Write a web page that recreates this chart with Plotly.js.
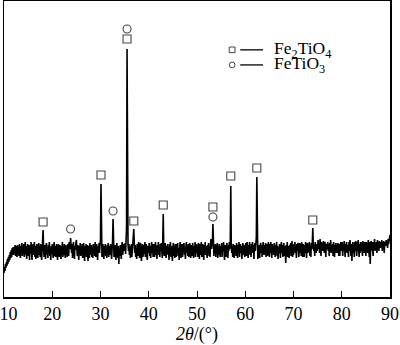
<!DOCTYPE html>
<html>
<head>
<meta charset="utf-8">
<script src="https://cdn.plot.ly/plotly-3.0.1.min.js"></script>
<style>html,body{margin:0;padding:0;background:#fff;}#chart{width:400px;height:345px;}</style>
</head>
<body>
<div id="chart"></div>
<script>
// 2-theta grid start and step (degrees)
const twoThetaStart = 10;
const twoThetaStep = 0.1;
// intensity (a.u.), one row per degree, 10.0 ... 89.9, then 90.0
const intensity = [
24,30,26,33,29,35,31,38,33,40,
35,42,37,45,39,47,40,49,43,50,
42,50,44,52,41,51,46,40,52,44,
49,41,53,44,39,51,46,54,41,48,
45,53,40,47,55,42,51,38,48,53,
41,46,52,37,51,44,55,43,37,49,
53,42,46,55,40,51,38,47,53,44,
39,48,54,42,51,40,53,46,37,51,
52,67,50,40,52,46,38,50,54,42,
49,39,52,44,55,41,47,37,51,43,
53,44,39,48,55,41,51,40,46,53,
43,37,48,53,44,40,52,46,38,51,
44,55,40,49,42,53,46,39,52,44,
50,40,53,46,41,55,48,50,59,48,
44,53,39,50,55,46,38,51,47,54,
57,48,41,52,44,37,51,46,54,41,
48,42,53,39,47,54,44,36,51,43,
53,40,46,52,36,44,51,39,54,42,
47,52,40,49,39,53,44,51,41,55,
40,48,53,42,37,51,46,54,44,52,
58,113,52,40,46,53,42,38,51,44,
53,41,48,39,52,44,54,40,47,51,
42,53,46,38,48,55,78,50,40,47,
52,41,37,49,54,44,39,51,33,47,
41,52,44,38,51,55,42,48,53,46,
50,54,43,51,70,248,90,53,46,53,
42,51,39,46,53,40,49,55,54,68,
54,44,52,40,49,38,53,46,41,55,
46,39,51,54,41,36,48,53,40,47,
52,43,55,40,49,53,41,37,51,44,
48,54,41,51,39,46,55,44,53,40,
46,53,40,49,55,42,51,38,52,44,
55,42,48,40,53,46,54,44,39,56,
83,52,41,49,54,44,39,51,46,53,
42,50,37,53,44,55,40,51,46,36,
48,54,41,51,39,53,46,40,53,44,
54,41,49,37,51,55,44,39,53,46,
40,53,46,54,42,49,38,51,55,44,
51,41,53,40,49,54,44,39,52,46,
41,54,48,39,51,44,55,40,46,53,
44,51,40,54,46,38,53,42,49,55,
40,50,53,44,37,52,46,55,42,51,
46,39,52,44,54,41,49,40,53,58,
48,52,56,73,50,41,51,46,53,40,
52,43,54,39,49,42,53,46,40,51,
44,54,40,51,46,55,42,37,52,48,
40,51,54,44,39,52,46,55,48,56,
111,54,44,51,40,53,46,39,52,44,
51,41,54,46,39,52,44,55,40,49,
53,44,51,38,49,54,42,52,46,40,
49,54,41,51,55,44,39,52,46,55,
42,51,40,53,46,55,44,52,38,49,
54,46,55,60,120,56,38,42,52,44,
39,51,54,44,52,40,49,55,46,42,
52,44,54,40,49,53,41,51,55,46,
40,53,44,55,49,39,53,46,51,42,
54,46,40,52,44,55,41,51,38,49,
44,53,46,39,51,55,44,52,40,49,
54,41,51,44,34,52,46,55,40,51,
46,39,52,44,54,41,49,56,40,51,
42,53,46,55,44,51,39,53,46,54,
51,40,49,54,44,53,41,55,46,40,
53,46,40,52,44,55,49,39,51,54,
44,53,46,55,41,51,40,54,48,55,
69,53,46,52,41,55,49,44,53,46,
51,57,48,54,44,58,51,41,55,48,
54,46,56,51,44,55,52,40,53,48,
51,55,46,53,41,54,49,57,44,52,
46,53,41,55,51,40,52,46,54,44,
52,44,54,49,41,53,41,51,55,46,
49,55,41,52,46,56,51,40,53,46,
55,44,52,49,40,55,46,57,51,41,
53,36,49,55,44,52,40,55,46,56,
51,41,55,46,57,49,40,53,44,55,
46,55,51,41,56,49,53,44,55,52,
41,55,49,53,44,57,51,40,55,33,
52,56,46,55,49,41,55,51,58,46,
53,49,55,44,57,51,55,46,56,52,
49,55,52,57,46,55,51,56,44,53,
55,51,57,52,55,49,58,53,56,58,
62
];
// phase markers
const fe2tio4X = [18.1, 30.1, 35.5, 36.9, 43.0, 53.3, 57.0, 62.4, 74.0];
const fe2tio4Y = [75, 122, 258, 76, 92, 90, 121, 129, 77];
const fetio3X = [23.8, 32.6, 35.5, 53.3];
const fetio3Y = [68, 86, 268, 80];
// legend labels and axis ticks
const phaseNames = ['Fe<sub>2</sub>TiO<sub>4</sub>', 'FeTiO<sub>3</sub>'];
const tickVals = [10, 20, 30, 40, 50, 60, 70, 80, 90];
const tickLabels = ['10', '20', '30', '40', '50', '60', '70', '80', '90'];

const serif = '"Liberation Serif", "DejaVu Serif", serif';
const markColor = '#444';

const traces = [
  {type: 'scatter', mode: 'lines', x0: twoThetaStart, dx: twoThetaStep, y: intensity,
   line: {color: '#000', width: 1.6}, hoverinfo: 'skip', showlegend: false},
  {type: 'scatter', mode: 'markers', x: fe2tio4X, y: fe2tio4Y, showlegend: false,
   marker: {symbol: 'square-open', size: 8, color: markColor, line: {width: 1.1, color: markColor}}},
  {type: 'scatter', mode: 'markers', x: fetio3X, y: fetio3Y, showlegend: false,
   marker: {symbol: 'circle-open', size: 8, color: markColor, line: {width: 1.1, color: markColor}}}
];

// legend drawn in paper coordinates
const lgX = 0.591, lgY1 = 0.835, lgY2 = 0.784;
const hw = 0.0075, hh = 0.0095;
const shapes = [
  {type: 'rect', xref: 'paper', yref: 'paper', x0: lgX - hw, x1: lgX + hw, y0: lgY1 - hh, y1: lgY1 + hh,
   line: {color: markColor, width: 1}},
  {type: 'circle', xref: 'paper', yref: 'paper', x0: lgX - hw, x1: lgX + hw, y0: lgY2 - hh, y1: lgY2 + hh,
   line: {color: markColor, width: 1}},
  {type: 'line', xref: 'paper', yref: 'paper', x0: 0.612, x1: 0.671, y0: lgY1, y1: lgY1, line: {color: '#000', width: 1.3}},
  {type: 'line', xref: 'paper', yref: 'paper', x0: 0.612, x1: 0.671, y0: lgY2, y1: lgY2, line: {color: '#000', width: 1.3}}
];
const annotations = [
  {xref: 'paper', yref: 'paper', x: 0.694, y: lgY1, xanchor: 'left', yanchor: 'middle', showarrow: false,
   text: phaseNames[0], font: {family: serif, size: 17.5, color: '#000'}},
  {xref: 'paper', yref: 'paper', x: 0.694, y: lgY2, xanchor: 'left', yanchor: 'middle', showarrow: false,
   text: phaseNames[1], font: {family: serif, size: 17.5, color: '#000'}}
];

const layout = {
  width: 400, height: 345,
  margin: {l: 4, r: 10, t: 1, b: 48, pad: 0},
  paper_bgcolor: '#fff', plot_bgcolor: '#fff',
  showlegend: false,
  font: {family: serif, color: '#000'},
  xaxis: {
    range: [10, 90], tickmode: 'array', tickvals: tickVals,
    ticktext: tickLabels.map((t, i) => i === 0 ? '\u2002' + t : t),
    ticklabeloverflow: 'allow',
    ticks: 'inside', ticklen: 6, tickwidth: 1, tickcolor: '#000',
    showline: true, linecolor: '#000', linewidth: 1.5, mirror: true,
    showgrid: false, zeroline: false,
    tickfont: {family: serif, size: 18, color: '#000'},
    title: {text: '<i>2θ</i>/(°)', font: {family: serif, size: 18, color: '#000'}, standoff: 2}
  },
  yaxis: {
    range: [0, 296], showticklabels: false, ticks: '',
    showline: true, linecolor: '#000', linewidth: 1.5, mirror: true,
    showgrid: false, zeroline: false
  },
  shapes: shapes,
  annotations: annotations
};

Plotly.newPlot('chart', traces, layout, {displayModeBar: false, staticPlot: true});
</script>
</body>
</html>
